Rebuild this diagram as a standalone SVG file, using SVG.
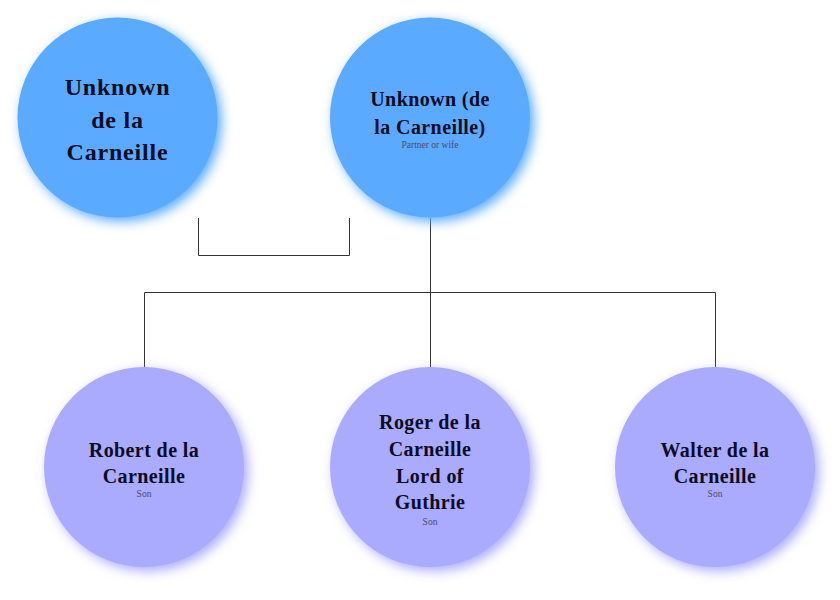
<svg xmlns="http://www.w3.org/2000/svg" width="840" height="600" viewBox="0 0 840 600">
<defs>
<filter id="glow" x="-30%" y="-30%" width="160%" height="160%">
<feGaussianBlur in="SourceGraphic" stdDeviation="6" result="b"/>
<feOffset in="b" dx="4" dy="4" result="o"/>
<feMerge><feMergeNode in="o"/><feMergeNode in="SourceGraphic"/></feMerge>
</filter>
</defs>
<style>
.blue{fill:#5aabff;filter:url(#glow)}
.violet{fill:#aaaaff;filter:url(#glow)}
.name{font-family:"Liberation Serif","Times New Roman",serif;font-weight:bold;fill:#0c0c22;text-anchor:middle;letter-spacing:0.4px}
.big{font-size:24px;letter-spacing:0.8px}
.mid{font-size:20px}
.sub{font-family:"Liberation Serif","Times New Roman",serif;font-size:9.5px;fill:#4a4a6a;text-anchor:middle}
.conn{fill:none;stroke:#333;stroke-width:1}
</style>
<rect width="840" height="600" fill="#ffffff"/>
<g id="connectors">
<polyline class="conn" points="198.5,218 198.5,255.5 349.5,255.5 349.5,218"/>
<line class="conn" x1="430.5" y1="218" x2="430.5" y2="367"/>
<polyline class="conn" points="144.5,367 144.5,292.5 715.5,292.5 715.5,367"/>
</g>
<g id="node-unknown-carneille">
<circle class="blue" cx="117.5" cy="117.5" r="100"/>
<text class="name big" x="117.5" y="95">Unknown</text>
<text class="name big" x="117.5" y="128">de la</text>
<text class="name big" x="117.5" y="160">Carneille</text>
</g>
<g id="node-unknown-partner">
<circle class="blue" cx="430" cy="117.5" r="100"/>
<text class="name mid" x="430" y="106">Unknown (de</text>
<text class="name mid" x="430" y="134">la Carneille)</text>
<text class="sub" x="430" y="148">Partner or wife</text>
</g>
<g id="node-robert">
<circle class="violet" cx="144" cy="467" r="100"/>
<text class="name mid" x="144" y="457">Robert de la</text>
<text class="name mid" x="144" y="483">Carneille</text>
<text class="sub" x="144" y="497">Son</text>
</g>
<g id="node-roger">
<circle class="violet" cx="430" cy="467" r="100"/>
<text class="name mid" x="430" y="429">Roger de la</text>
<text class="name mid" x="430" y="456">Carneille</text>
<text class="name mid" x="430" y="483">Lord of</text>
<text class="name mid" x="430" y="509">Guthrie</text>
<text class="sub" x="430" y="525">Son</text>
</g>
<g id="node-walter">
<circle class="violet" cx="715" cy="467" r="100"/>
<text class="name mid" x="715" y="457">Walter de la</text>
<text class="name mid" x="715" y="483">Carneille</text>
<text class="sub" x="715" y="497">Son</text>
</g>
</svg>
